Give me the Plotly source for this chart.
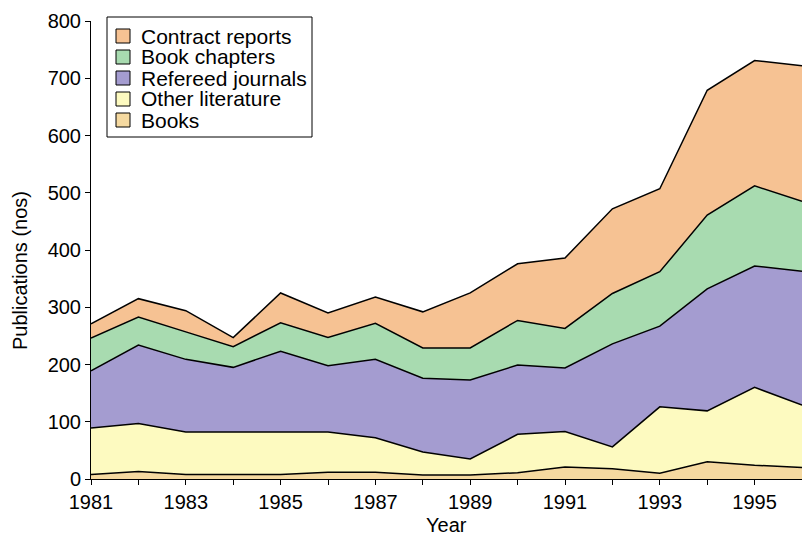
import plotly.graph_objects as go

years = list(range(1981, 1997))

# per-category counts (stacked from the bottom: Books first)
books = [8, 13, 8, 8, 8, 12, 12, 7, 7, 11, 21, 18, 10, 30, 24, 20]
other_literature = [81, 84, 74, 74, 74, 70, 60, 40, 28, 67, 62, 38, 116, 89, 136, 109]
refereed_journals = [100, 137, 127, 113, 141, 116, 137, 129, 138, 121, 111, 180, 141, 213, 212, 234]
book_chapters = [57, 49, 48, 36, 50, 49, 63, 53, 56, 78, 69, 88, 95, 129, 140, 122]
contract_reports = [25, 32, 37, 16, 52, 43, 46, 63, 96, 99, 123, 148, 145, 218, 219, 237]

series = [
    ("Books", books, "#F5D9A0"),
    ("Other literature", other_literature, "#FDFAC0"),
    ("Refereed journals", refereed_journals, "#A49CD0"),
    ("Book chapters", book_chapters, "#A8DBB0"),
    ("Contract reports", contract_reports, "#F6C293"),
]

FONT = "Liberation Sans, Arial, Helvetica, sans-serif"

# figure is 16px smaller than the window so the page body margin (8px) doesn't overflow
FIG_W, FIG_H, BODY = 794, 527, 8
# plot area in window pixels
PLOT_L, PLOT_R, PLOT_T, PLOT_B = 91, 802, 21, 479
ROW = 21  # legend row pitch


def px_x(x):
    return (x - PLOT_L) / (PLOT_R - PLOT_L)


def px_y(y):
    return (PLOT_B - y) / (PLOT_B - PLOT_T)


fig = go.Figure()

for name, values, color in series:
    fig.add_trace(
        go.Scatter(
            x=years,
            y=values,
            name=name,
            mode="lines",
            stackgroup="pubs",
            fillcolor=color,
            line=dict(color="black", width=1.5),
            showlegend=False,
        )
    )

# hand-built legend: boxed, square swatches, tight rows (top entry = last series)
shapes = [
    dict(
        type="rect", xref="paper", yref="paper",
        x0=px_x(107), x1=px_x(312), y0=px_y(137), y1=px_y(17),
        line=dict(color="black", width=1), fillcolor="white", layer="above",
    )
]
annotations = []
for i, (name, _, color) in enumerate(reversed(series)):
    cy = 36 + ROW * i
    shapes.append(
        dict(
            type="rect", xref="paper", yref="paper",
            x0=px_x(116), x1=px_x(130), y0=px_y(cy + 7), y1=px_y(cy - 7),
            line=dict(color="black", width=1), fillcolor=color, layer="above",
        )
    )
    annotations.append(
        dict(
            text=name, xref="paper", yref="paper",
            x=px_x(139), y=px_y(cy), xanchor="left", yanchor="middle",
            showarrow=False, font=dict(size=21),
        )
    )

annotations.append(
    dict(
        text="Publications (nos)", xref="paper", yref="paper",
        x=px_x(20), y=px_y(271), xanchor="center", yanchor="middle",
        textangle=-90, showarrow=False, font=dict(size=20),
    )
)
annotations.append(
    dict(
        text="Year", xref="paper", yref="paper",
        x=0.5, y=px_y(525), xanchor="center", yanchor="middle",
        showarrow=False, font=dict(size=20),
    )
)

fig.update_layout(
    width=FIG_W,
    height=FIG_H,
    margin=dict(
        l=PLOT_L - BODY,
        r=FIG_W + BODY - PLOT_R,
        t=PLOT_T - BODY,
        b=FIG_H + BODY - PLOT_B,
    ),
    paper_bgcolor="white",
    plot_bgcolor="white",
    font=dict(family=FONT, size=20, color="black"),
    showlegend=False,
    xaxis=dict(
        range=[1981, 1996],
        tick0=1981,
        dtick=2,
        ticks="outside",
        ticklen=5,
        tickcolor="black",
        showline=True,
        linecolor="black",
        linewidth=1,
        showgrid=False,
        zeroline=False,
        minor=dict(dtick=1, ticks="outside", ticklen=5, tickcolor="black", showgrid=False),
    ),
    yaxis=dict(
        range=[0, 800],
        dtick=100,
        ticks="outside",
        ticklen=5,
        tickcolor="black",
        showline=True,
        linecolor="black",
        linewidth=1,
        showgrid=False,
        zeroline=False,
    ),
    shapes=shapes,
    annotations=annotations,
)

fig.write_html("out.html")
